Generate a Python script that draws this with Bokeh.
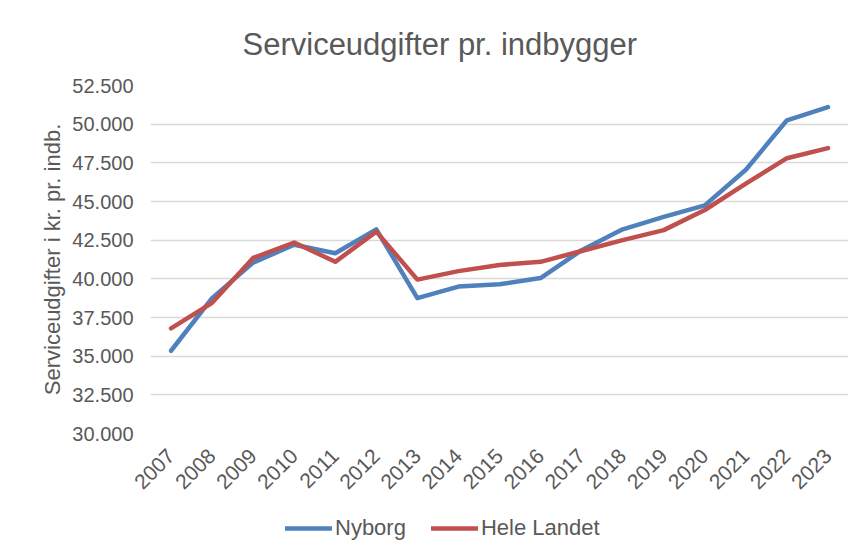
import math
from bokeh.plotting import figure
from bokeh.layouts import column
from bokeh.models import FactorRange, Range1d, FixedTicker, Legend, LegendItem, ColumnDataSource
from bokeh.embed import file_html
from bokeh.resources import INLINE

years = ["2007", "2008", "2009", "2010", "2011", "2012", "2013", "2014", "2015",
         "2016", "2017", "2018", "2019", "2020", "2021", "2022", "2023"]
nyborg = [35350, 38750, 41050, 42200, 41650, 43200, 38750, 39500, 39650,
          40050, 41850, 43200, 44000, 44750, 47050, 50250, 51100]
hele_landet = [36800, 38450, 41350, 42350, 41100, 43050, 39950, 40500, 40900,
               41100, 41800, 42500, 43150, 44450, 46150, 47800, 48450]
y_ticks = [30000, 32500, 35000, 37500, 40000, 42500, 45000, 47500, 50000, 52500]
y_tick_labels = ["30.000", "32.500", "35.000", "37.500", "40.000", "42.500",
                 "45.000", "47.500", "50.000", "52.500"]
series_names = ["Nyborg", "Hele Landet"]

FONT = "Liberation Sans"
GREY = "#595959"
BLUE = "#4F81BD"
RED = "#C0504D"

src = ColumnDataSource(dict(year=years, nyborg=nyborg, hele=hele_landet))

p = figure(width=850, height=505, x_range=FactorRange(*years),
           y_range=Range1d(y_ticks[0], y_ticks[-1]),
           output_backend="svg", toolbar_location=None,
           min_border_left=150, min_border_right=2,
           min_border_top=85, min_border_bottom=72)

p.title.text = "Serviceudgifter pr. indbygger"
p.title.text_font = FONT
p.title.text_font_size = "31px"
p.title.text_font_style = "normal"
p.title.text_color = GREY
p.title.align = "left"
p.title.offset = 92
p.title.standoff = 48

p.outline_line_color = None
p.xgrid.grid_line_color = None
p.ygrid.grid_line_color = "#D9D9D9"
p.ygrid.grid_line_width = 1.5

p.yaxis.ticker = FixedTicker(ticks=y_ticks)
p.yaxis.major_label_overrides = {t: l for t, l in zip(y_ticks, y_tick_labels)}
p.yaxis.axis_label = "Serviceudgifter i kr. pr. indb."
p.yaxis.axis_label_text_font = FONT
p.yaxis.axis_label_text_font_size = "22px"
p.yaxis.axis_label_text_font_style = "normal"
p.yaxis.axis_label_text_color = GREY
p.yaxis.axis_label_standoff = 4

for ax in (p.xaxis[0], p.yaxis[0]):
    ax.axis_line_color = None
    ax.major_tick_line_color = None
    ax.minor_tick_line_color = None
    ax.major_label_text_font = FONT
    ax.major_label_text_color = GREY

p.yaxis.major_label_text_font_size = "20px"
p.yaxis.major_label_standoff = 11
p.xaxis.major_label_text_font_size = "21px"
p.xaxis.major_label_orientation = math.pi / 4
p.xaxis.major_label_standoff = 13
p.x_range.range_padding = 0
p.x_range.group_padding = 0

p.line("year", "nyborg", source=src, line_color=BLUE, line_width=4.5,
       line_cap="round", line_join="round")
p.line("year", "hele", source=src, line_color=RED, line_width=4.5,
       line_cap="round", line_join="round")

# legend strip below the chart (its frame is aligned with the chart's frame)
lg = figure(width=850, height=42, x_range=Range1d(0, 1), y_range=Range1d(0, 1),
            output_backend="svg", toolbar_location=None,
            x_axis_location=None, y_axis_location=None,
            min_border=0, outline_line_color=None)
lg.xgrid.grid_line_color = None
lg.ygrid.grid_line_color = None
# legend-only renderers, kept outside the visible range
l1 = lg.line(x=[-5, -4], y=[-5, -4], line_color=BLUE, line_width=4.5, line_cap="round")
l2 = lg.line(x=[-5, -4], y=[-5, -4], line_color=RED, line_width=4.5, line_cap="round")
legend = Legend(items=[LegendItem(label=series_names[0], renderers=[l1]),
                       LegendItem(label=series_names[1], renderers=[l2])],
                orientation="horizontal", location=(135, 6),
                label_text_font=FONT, label_text_font_size="22px",
                label_text_color=GREY, glyph_width=47, glyph_height=10,
                label_standoff=3, spacing=25, padding=0, margin=0,
                border_line_color=None, background_fill_alpha=0)
lg.add_layout(legend)

layout = column(p, lg, spacing=0)
open("out.html", "w").write(file_html(layout, INLINE))
